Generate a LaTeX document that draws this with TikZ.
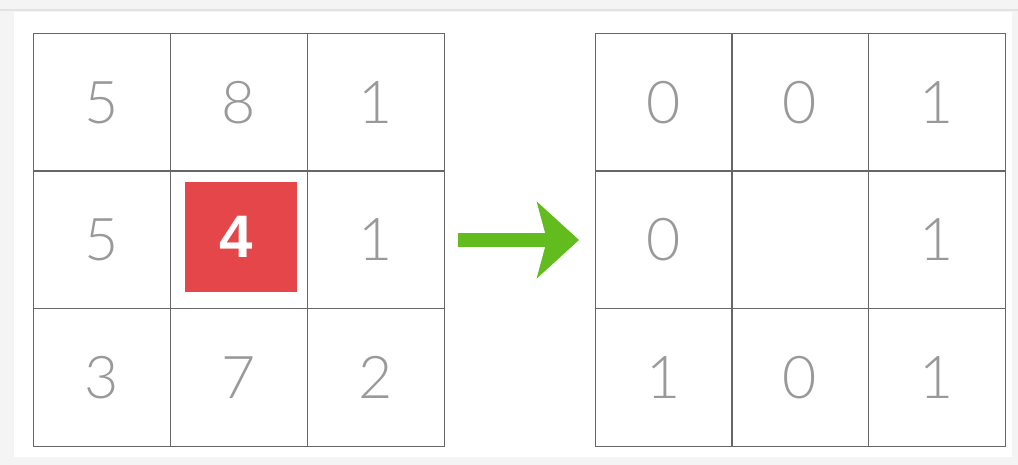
\documentclass[tikz,border=0pt]{standalone}
\usepackage{fontspec}
\setmainfont{Liberation Sans}
\newfontfamily\digitfont{Lato Light}
\usetikzlibrary{arrows.meta}
\definecolor{bggray}{HTML}{F4F4F4}
\definecolor{rimgray}{HTML}{E2E2E2}
\definecolor{patchred}{HTML}{E4464A}
\definecolor{arrowgreen}{HTML}{62BC1E}
\tikzset{
  cell/.style ={draw=black!60, line width=1pt, minimum size=137pt, inner sep=0pt,
                font=\digitfont\fontsize{59}{59}\selectfont, text=black!40},
  hot/.style  ={fill=patchred, minimum width=112pt, minimum height=110pt, inner sep=0pt,
                text=white, font=\bfseries\fontsize{60}{60}\selectfont},
  push/.style ={-{Stealth[length=42pt,width=76pt,inset=10pt]}, line width=14pt, draw=arrowgreen}
}

\begin{document}
\begin{tikzpicture}[x=1pt,y=-1pt]
  \useasboundingbox (0,0) rectangle (1018,465);
  \fill[bggray] (0,0) rectangle (1018,465);
  \fill[white] (14,12) rectangle (1012,457);
  \draw[rimgray, line width=1.5pt] (0,10) -- (1018,10);

  % input grid
  \foreach \v [count=\i from 0] in {5,8,1,5,,1,3,7,2}{
    \pgfmathtruncatemacro{\col}{mod(\i,3)}
    \pgfmathtruncatemacro{\row}{int(\i/3)}
    \node[cell] (L\i) at (101.5+137*\col, 102.5+137.5*\row) {\v};
  }
  \node[hot] (four) at (241,237) {\hspace*{-9pt}4};

  % output grid
  \foreach \v [count=\i from 0] in {0,0,1,0,,1,1,0,1}{
    \pgfmathtruncatemacro{\col}{mod(\i,3)}
    \pgfmathtruncatemacro{\row}{int(\i/3)}
    \node[cell] (R\i) at (663.5+136.5*\col, 102.5+137.5*\row) {\v};
  }

  \coordinate (arrS) at (458,240);
  \coordinate (arrE) at (579,240);
  \draw[push] (arrS) -- (arrE);
\end{tikzpicture}
\end{document}
